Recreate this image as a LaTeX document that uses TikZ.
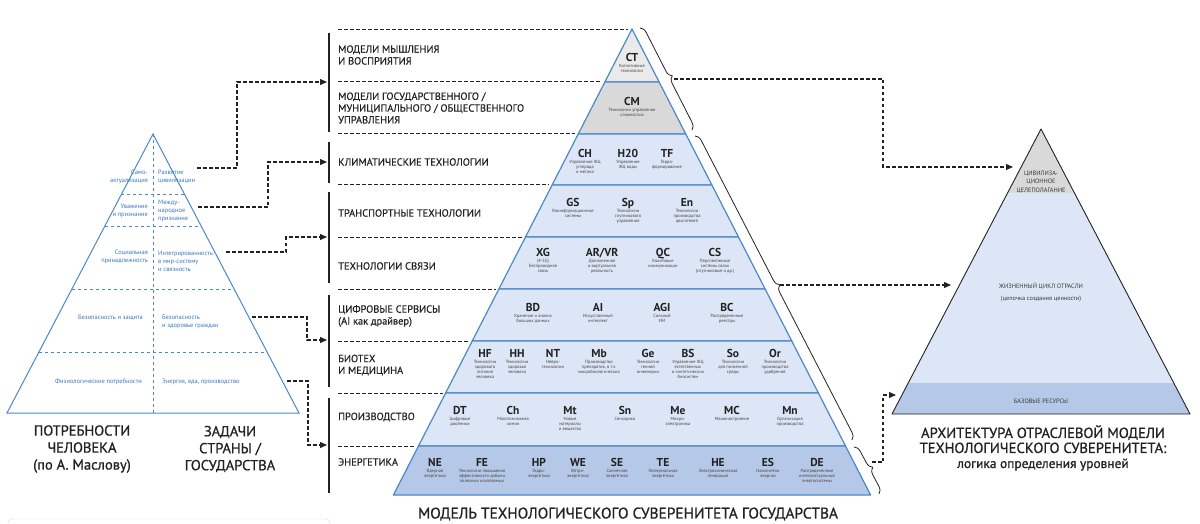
\documentclass[tikz,border=0pt]{standalone}
\usepackage{fontspec}
\setmainfont{PT Sans}
\newfontfamily\headfont{PT Sans}[FakeBold=0.9]
\newfontfamily\lvlfont{PT Sans}[FakeBold=0.5]
\usetikzlibrary{arrows.meta, positioning, calc, decorations.pathreplacing}
\definecolor{LineBlue}{RGB}{74,136,202}
\definecolor{TextBlue}{RGB}{58,118,190}
\definecolor{TierBlue}{RGB}{221,230,246}
\definecolor{BaseBlue}{RGB}{182,200,232}
\definecolor{TopGray}{RGB}{234,234,234}
\definecolor{MidGray}{RGB}{217,217,217}
\definecolor{Ink}{RGB}{34,34,34}

% one tier of the central pyramid: y top, y bottom, fill
\newcommand{\tier}[3]{%
  \pgfmathsetmacro{\ha}{0.512*(#1-29)}%
  \pgfmathsetmacro{\hb}{0.512*(#2-29)}%
  \filldraw[tierline, fill=#3] (632-\ha,#1) -- (632+\ha,#1) -- (632+\hb,#2) -- (632-\hb,#2) -- cycle;}
% dashed separator from the level labels to the pyramid
\newcommand{\sep}[1]{%
  \pgfmathsetmacro{\hs}{632-0.512*(#1-29)-3}%
  \draw[sepline] (338,#1) -- (\hs,#1);}
% technology: name, position, code, description
\newcommand{\tech}[4]{%
  \node[code] (#1) at (#2) {#3};
  \node[desc, below=2.6pt of #1] (#1-d) {#4};}

\begin{document}
\begin{tikzpicture}[
    x=1pt, y=-1pt,
    every node/.style={inner sep=0pt, text=Ink},
    lpyr/.style={draw=LineBlue, line width=1pt},
    ltxt/.style={font=\fontsize{6.4}{8}\selectfont, text=TextBlue},
    lvl/.style={anchor=west, align=left, font=\fontsize{10.4}{11.8}\lvlfont},
    ttl/.style={align=center, font=\fontsize{14.5}{17}\headfont},
    code/.style={font=\fontsize{11.5}{12}\selectfont\bfseries, text height=8.3pt, text depth=0pt},
    desc/.style={align=center, font=\fontsize{4.5}{5.2}\selectfont, text=Ink!85},
    tierline/.style={draw=LineBlue, line width=1.2pt, line join=round},
    sepline/.style={draw=Ink, dashed, dash pattern=on 3.5pt off 2.5pt, line width=1pt},
    bar/.style={draw=Ink, line width=1.2pt},
    conn/.style={draw=Ink, dash pattern=on 3.5pt off 2.5pt, line width=1.1pt,
                 -{Triangle[length=7pt, width=6pt]}},
    brc/.style={draw=Ink, line width=0.8pt, decorate, decoration={brace, amplitude=7pt}},
    rtxt/.style={align=center, font=\fontsize{6.3}{8.5}\selectfont, text=Ink!90}
]
\useasboundingbox (0,0) rectangle (1200,524);

% left pyramid: needs and state tasks
\draw[lpyr] (153,134) -- (299,413) -- (7,413) -- cycle;
\draw[lpyr, dashed] (153,134) -- (153,413);
\draw[lpyr, dashed] (121.1,195) -- (184.9,195);
\draw[lpyr, dashed] (104.9,226) -- (201.1,226);
\draw[lpyr, dashed] (71.9,289) -- (234.1,289);
\draw[lpyr, dashed] (38.9,352) -- (267.1,352);

\node[ltxt, anchor=east, align=right] (selfact) at (148,177) {Само-\\актуализация};
\node[ltxt, anchor=west, align=left] (civ) at (158,177) {Развитие\\цивилизации};
\node[ltxt, anchor=east, align=right] (respect) at (148,211) {Уважение\\и признание};
\node[ltxt, anchor=west, align=left] (intl) at (158,211) {Между-\\народное\\признание};
\node[ltxt, anchor=east, align=right] (belong) at (148,257) {Социальная\\принадлежность};
\node[ltxt, anchor=west, align=left] (integ) at (158,261) {Интегрированность\\в мир-систему\\и связность};
\node[ltxt, anchor=east] (safety) at (143,318) {Безопасность и защита};
\node[ltxt, anchor=west, align=left] (health) at (162,322) {Безопасность\\и здоровье граждан};
\node[ltxt, anchor=east] (physio) at (142,382) {Физиологические потребности};
\node[ltxt, anchor=west] (energy) at (162,382) {Энергия, еда, производство};

\node[ttl] (needs) at (82,449) {ПОТРЕБНОСТИ\\ЧЕЛОВЕКА\\(по А. Маслову)};
\node[ttl] (tasks) at (230,449) {ЗАДАЧИ\\СТРАНЫ /\\ГОСУДАРСТВА};
\draw[gray!30, rounded corners=4pt] (8,519) rectangle (330,540);

% central pyramid
\tier{29}{82}{TopGray}
\tier{82}{134}{MidGray}
\tier{134}{185}{TierBlue}
\tier{185}{237}{TierBlue}
\tier{237}{289}{TierBlue}
\tier{289}{341}{TierBlue}
\tier{341}{393}{TierBlue}
\tier{393}{446}{TierBlue}
\tier{446}{495}{BaseBlue}

\sep{30}
\sep{82}
\sep{134}
\sep{185}
\sep{237}
\sep{289}
\sep{341}
\sep{393}
\sep{446}

\draw[bar] (329,33) -- (329,132);
\draw[bar] (329,142) -- (329,183);
\draw[bar] (329,192) -- (329,283);
\draw[bar] (329,295) -- (329,387);
\draw[bar] (329,398) -- (329,493);

\node[lvl] (lv1) at (338,55) {МОДЕЛИ МЫШЛЕНИЯ\\И ВОСПРИЯТИЯ};
\node[lvl] (lv2) at (338,108) {МОДЕЛИ ГОСУДАРСТВЕННОГО /\\МУНИЦИПАЛЬНОГО / ОБЩЕСТВЕННОГО\\УПРАВЛЕНИЯ};
\node[lvl] (lv3) at (338,162) {КЛИМАТИЧЕСКИЕ ТЕХНОЛОГИИ};
\node[lvl] (lv4) at (338,213) {ТРАНСПОРТНЫЕ ТЕХНОЛОГИИ};
\node[lvl] (lv5) at (338,266) {ТЕХНОЛОГИИ СВЯЗИ};
\node[lvl] (lv6) at (338,316) {ЦИФРОВЫЕ СЕРВИСЫ\\(AI как драйвер)};
\node[lvl] (lv7) at (338,365) {БИОТЕХ\\И МЕДИЦИНА};
\node[lvl] (lv8) at (338,417) {ПРОИЗВОДСТВО};
\node[lvl] (lv9) at (338,462) {ЭНЕРГЕТИКА};

\tech{ct}{632,57}{CT}{Когнитивные\\технологии}
\tech{cm}{632,101}{CM}{Технологии управления\\сложностью}

\tech{ch}{585,153}{CH}{Управление ЖЦ\\углерода\\и метана}
\tech{h2o}{628,153}{H20}{Управление\\ЖЦ воды}
\tech{tf}{667,153}{TF}{Терра-\\формирование}

\tech{gs}{573,202}{GS}{Геоинформационные\\системы}
\tech{sp}{628,202}{Sp}{Технологии\\спутникового\\управления}
\tech{en}{687,202}{En}{Технологии\\производства\\двигателей}

\tech{xg}{543,252}{XG}{(4-5G)\\Беспроводная\\связь}
\tech{arvr}{602,252}{AR/VR}{Дополненная\\и виртуальная\\реальность}
\tech{qc}{663,252}{QC}{Квантовые\\коммуникации}
\tech{cs}{715,252}{CS}{Перспективные\\системы связи\\(спутниковые и др.)}

\tech{bd}{533,307}{BD}{Хранение и анализ\\больших данных}
\tech{ai}{598,307}{AI}{Искусственный\\интеллект}
\tech{agi}{662,307}{AGI}{Сильный\\ИИ}
\tech{bc}{727,307}{BC}{Распределенные\\реестры}

\tech{hf}{485,353}{HF}{Технологии\\здорового\\питания\\человека}
\tech{hh}{517,353}{HH}{Технологии\\здоровья\\человека}
\tech{nt}{553,353}{NT}{Нейро-\\технологии}
\tech{mb}{599,353}{Mb}{Производство\\препаратов, в т.ч.\\микробиологических}
\tech{ge}{648,353}{Ge}{Технологии\\генной\\инженерии}
\tech{bs}{688,353}{BS}{Управление ЖЦ\\естественных\\и синтетических\\биосистем}
\tech{so}{733,353}{So}{Технологии\\для почвенной\\среды}
\tech{or}{775,353}{Or}{Технологии\\производства\\удобрений}

\tech{dt}{460,410}{DT}{Цифровые\\двойники}
\tech{chm}{513,410}{Ch}{Малотоннажная\\химия}
\tech{mt}{570,410}{Mt}{Новые\\материалы\\и вещества}
\tech{sn}{625,410}{Sn}{Сенсорика}
\tech{me}{678,410}{Me}{Микро-\\электроника}
\tech{mc}{732,410}{MC}{Машиностроение}
\tech{mn}{790,410}{Mn}{Организация\\производства}

\tech{ne}{435,462}{NE}{Ядерная\\энергетика}
\tech{fe}{482,462}{FE}{Технологии повышения\\эффективности добычи\\полезных ископаемых}
\tech{hp}{539,462}{HP}{Гидро-\\энергетика}
\tech{we}{578,462}{WE}{Ветро-\\энергетика}
\tech{se}{617,462}{SE}{Солнечная\\энергетика}
\tech{te}{663,462}{TE}{Геотермальная\\энергетика}
\tech{he}{718,462}{HE}{Электрохимическая\\генерация}
\tech{es}{768,462}{ES}{Накопители\\энергии}
\tech{de}{817,462}{DE}{Распределенные\\интеллектуальные\\энергосистемы}

\node[ttl, font=\fontsize{15.4}{18}\headfont] (mainttl) at (628,514) {МОДЕЛЬ ТЕХНОЛОГИЧЕСКОГО СУВЕРЕНИТЕТА ГОСУДАРСТВА};

% braces along the right side
\draw[brc] (640,28) -- (692,130);
\draw[brc] (695,136) -- (852,440);
\draw[brc] (854,447) -- (879,494);
\coordinate (tip1) at (674,79);
\coordinate (tip2) at (780,285);
\coordinate (tip3) at (872,462);

% right pyramid
\fill[MidGray] (1041,129) -- (1074.5,193) -- (1007.5,193) -- cycle;
\fill[TierBlue] (1007.5,193) -- (1074.5,193) -- (1173.8,383) -- (908.2,383) -- cycle;
\fill[BaseBlue] (908.2,383) -- (1173.8,383) -- (1190,414) -- (892,414) -- cycle;
\draw[Ink, line width=0.9pt, line join=round] (1041,129) -- (1190,414) -- (892,414) -- cycle;

\node[rtxt] (goal) at (1041,182) {ЦИВИЛИЗА-\\ЦИОННОЕ\\ЦЕЛЕПОЛАГАНИЕ};
\node[rtxt] (cycle) at (1041,286) {ЖИЗНЕННЫЙ ЦИКЛ ОТРАСЛИ};
\node[rtxt] (chain) at (1041,299) {(цепочка создания ценности)};
\node[rtxt] (base) at (1041,401) {БАЗОВЫЕ РЕСУРСЫ};

\node[align=center, font=\fontsize{14.6}{15}\headfont] (archttl) at (1043,448)
  {АРХИТЕКТУРА ОТРАСЛЕВОЙ МОДЕЛИ\\ТЕХНОЛОГИЧЕСКОГО СУВЕРЕНИТЕТА:\\{\fontsize{13.4}{15}\headfont логика определения уровней}};

% arrival points
\coordinate (in1) at (327,82);
\coordinate (in2) at (327,162);
\coordinate (in3) at (327,237);
\coordinate (in4) at (327,340);
\coordinate (in5) at (327,445);
\coordinate (goal-in) at (1013,167);
\coordinate (cycle-in) at (951,285);
\coordinate (base-in) at (896,395);

% start points beside the left pyramid
\coordinate (out1) at (197,168);
\coordinate (out2) at (198,207);
\coordinate (out3) at (226,252);
\coordinate (out4) at (252,317);
\coordinate (out5) at (287,381);

\draw[conn] (out1) -- ++(40,0) |- (in1);
\draw[conn] (out2) -- ++(70,0) |- (in2);
\draw[conn] (out3) -- ++(60,0) |- (in3);
\draw[conn] (out4) -- ++(55,0) |- (in4);
\draw[conn] (out5) -- ++(21,0) |- (in5);

\draw[conn] (tip1) -- ++(209,0) |- (goal-in);
\draw[conn] (tip2) -- (cycle-in);
\draw[conn] (tip3) -- ++(11,0) |- (base-in);
\end{tikzpicture}
\end{document}
